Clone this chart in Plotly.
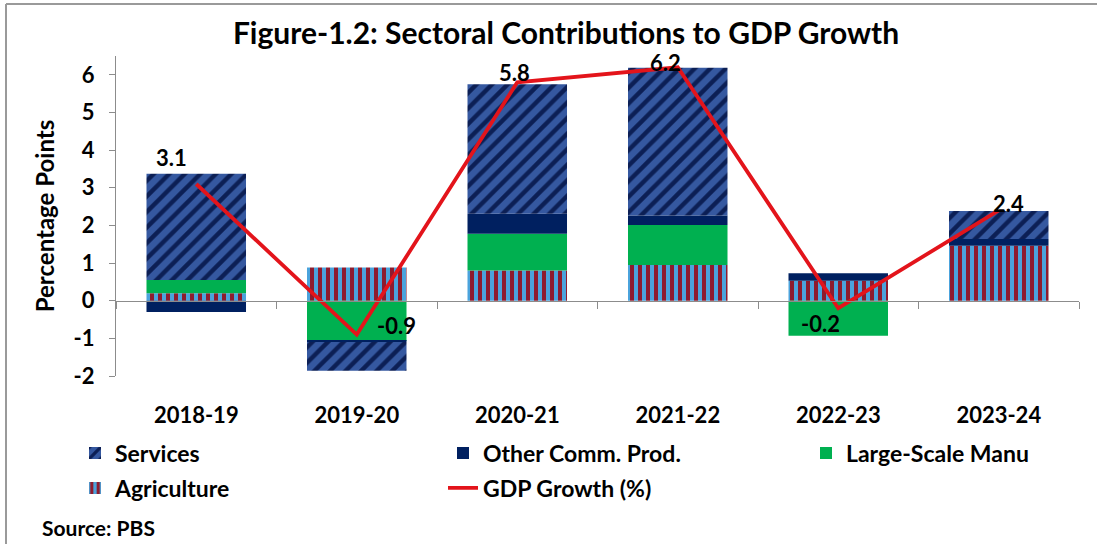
import plotly.graph_objects as go

years = ["2018-19", "2019-20", "2020-21", "2021-22", "2022-23", "2023-24"]
agriculture = [0.20, 0.88, 0.80, 0.95, 0.53, 1.46]
large_scale_manu = [0.35, -1.07, 0.98, 1.06, -0.93, 0.00]
other_comm = [-0.30, -0.03, 0.53, 0.25, 0.20, 0.18]
services = [2.82, -0.76, 3.44, 3.93, 0.00, 0.74]
gdp_growth = [3.1, -0.9, 5.8, 6.2, -0.2, 2.4]
gdp_labels = ["3.1", "-0.9", "5.8", "6.2", "-0.2", "2.4"]
y_ticks = [-2, -1, 0, 1, 2, 3, 4, 5, 6]
y_tick_text = ["-2", "-1", "0", "1", "2", "3", "4", "5", "6"]

FONT = "Lato"
W, H = 1097, 544
ML, MR, MT, MB = 116, 18, 56, 168
YMIN, YMAX = -2, 6.5
pw = W - ML - MR
ph = H - MT - MB

def px_x(p):
    return (p - ML) / pw

def px_y(p):
    return (H - MB - p) / ph

fig = go.Figure()
bw = 0.62
fig.add_trace(go.Bar(
    x=years, y=agriculture, name="Agriculture", width=bw,
    marker=dict(color="#4BA3DC", line=dict(width=0),
                pattern=dict(shape="|", bgcolor="#4BA3DC", fgcolor="#8E1B2E",
                             size=8, solidity=0.5, fillmode="replace")),
    legend="legend2", legendrank=1))
fig.add_trace(go.Bar(
    x=years, y=large_scale_manu, name="Large-Scale Manu", width=bw,
    marker=dict(color="#00B050", line=dict(width=0)),
    legend="legend3", legendrank=1))
fig.add_trace(go.Bar(
    x=years, y=other_comm, name="Other Comm. Prod.", width=bw,
    marker=dict(color="#002060", line=dict(width=0)),
    legend="legend", legendrank=2))
fig.add_trace(go.Bar(
    x=years, y=services, name="Services", width=bw,
    marker=dict(color="#3558A0", line=dict(width=0),
                pattern=dict(shape="/", bgcolor="#3558A0", fgcolor="#0C1F55",
                             size=11, solidity=0.4, fillmode="replace")),
    legend="legend", legendrank=1))
fig.add_trace(go.Scatter(
    x=years, y=gdp_growth, name="GDP Growth (%)", mode="lines",
    line=dict(color="#E3141B", width=3.8),
    legend="legend2", legendrank=2, cliponaxis=False))
# helper trace that places the zero-line category axis
fig.add_trace(go.Scatter(
    x=years, y=gdp_growth, mode="none", xaxis="x2", showlegend=False,
    hoverinfo="skip"))

# label offsets (pixels) for the GDP data labels
label_shift_x = [-25, 40, -3, -12, -18, 10]
label_shift_y = [27, 9, 10, 5, -15, 7]
label_annots = [
    dict(x=xv, y=yv, xref="x", yref="y", text=t, showarrow=False,
         xshift=sx, yshift=sy, xanchor="center", yanchor="middle",
         font=dict(family=FONT, size=22, color="black", weight="bold"))
    for xv, yv, t, sx, sy in zip(years, gdp_growth, gdp_labels, label_shift_x, label_shift_y)
]

legend_font = dict(family=FONT, size=23, color="black", weight="bold")
leg_common = dict(orientation="h", entrywidthmode="pixels",
                  font=legend_font, bgcolor="rgba(0,0,0,0)", xanchor="left",
                  yanchor="middle", traceorder="normal")

fig.update_layout(
    width=W, height=H,
    margin=dict(l=ML, r=MR, t=MT, b=MB, autoexpand=False),
    paper_bgcolor="white", plot_bgcolor="white",
    barmode="relative",
    title=dict(text="Figure-1.2: Sectoral Contributions to GDP Growth",
               x=0.516, xanchor="center", y=1 - 33 / H, yanchor="middle",
               font=dict(family=FONT, size=30, color="black", weight="bold")),
    xaxis=dict(type="category", showline=False, showgrid=False, zeroline=False,
               ticks="outside", ticklen=20, tickcolor="rgba(0,0,0,0)",
               tickfont=dict(family=FONT, size=22, color="black", weight="bold"),
               range=[-0.5, 5.5]),
    xaxis2=dict(type="category", overlaying="x", matches="x", anchor="free",
                position=(0 - YMIN) / (YMAX - YMIN), side="bottom",
                showline=True, linecolor="#8C8C8C", linewidth=1.2,
                ticks="outside", tickson="boundaries", ticklen=7,
                tickcolor="#8C8C8C", tickwidth=1.2, showticklabels=False,
                showgrid=False, zeroline=False),
    yaxis=dict(range=[YMIN, YMAX], tickvals=y_ticks, ticktext=y_tick_text,
               showgrid=False,
               zeroline=False, showline=True, linecolor="#8C8C8C",
               linewidth=1.2, ticks="outside", ticklen=6, tickcolor="#8C8C8C",
               tickwidth=1.2, ticklabelstandoff=10,
               tickfont=dict(family=FONT, size=22, color="black", weight="bold"),
               title=dict(text="Percentage Points", standoff=12,
                          font=dict(family=FONT, size=24, color="black", weight="bold"))),
    legend=dict(x=px_x(75), y=px_y(453), entrywidth=323, **leg_common),
    legend2=dict(x=px_x(75), y=px_y(488), entrywidth=323, **leg_common),
    legend3=dict(x=px_x(806), y=px_y(453), entrywidth=200, **leg_common),
    annotations=label_annots + [dict(text="Source: PBS", xref="paper", yref="paper",
                      x=px_x(40), y=px_y(527), xanchor="left", yanchor="middle",
                      showarrow=False,
                      font=dict(family=FONT, size=21, color="black", weight="bold"))],
    shapes=[
        dict(type="line", xref="paper", yref="paper", x0=px_x(6), x1=px_x(W + 5),
             y0=px_y(4), y1=px_y(4), line=dict(color="#9A9A9A", width=2)),
        dict(type="line", xref="paper", yref="paper", x0=px_x(6), x1=px_x(6),
             y0=px_y(4), y1=px_y(H + 5), line=dict(color="#9A9A9A", width=2)),
    ],
    showlegend=True,
)

fig.write_html("out.html")
